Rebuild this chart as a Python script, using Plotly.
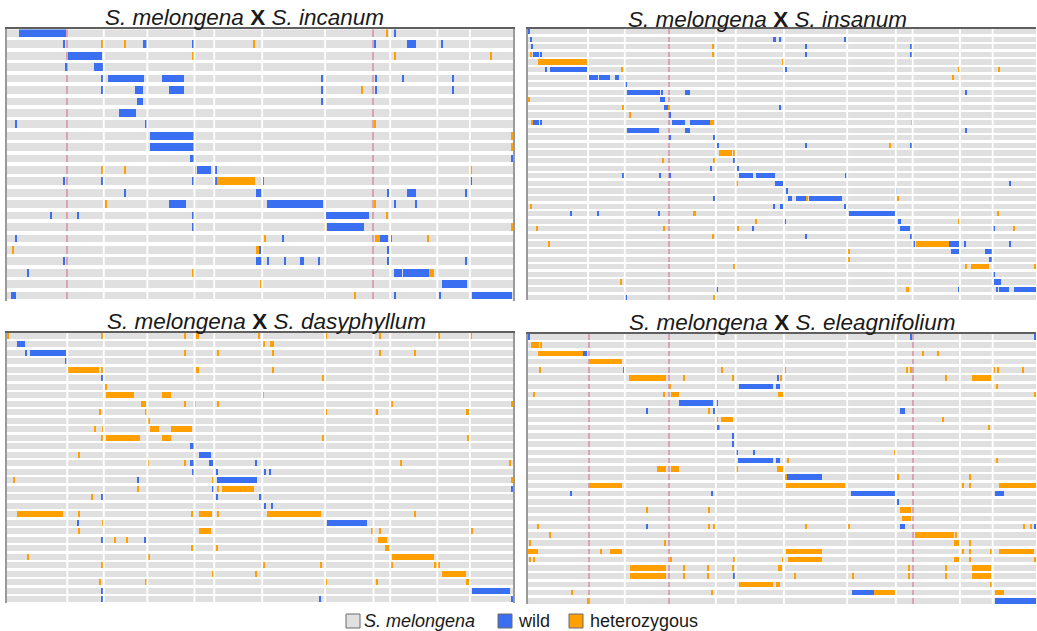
import plotly.graph_objects as go

# Chromosome lengths (Mb) of the eggplant reference, laid end to end along x
CHROM_LEN = [137, 83, 99, 107, 45, 109, 143, 110, 38, 107, 74, 98]
GENOME = sum(CHROM_LEN)

GRAY = "#e0e0e0"
BLUE = "#3b6ff2"
ORANGE = "#ffa000"
PINK = "#d9a3b3"
SNP_W = 3.0     # drawn width of single-marker calls (Mb)
BAR_W = 0.68    # row thickness

FONT = "Liberation Sans, Arial, sans-serif"

# ---------------- S. melongena x S. incanum (24 lines) ----------------
incanum_rows = 24
incanum_wild = [
    (0, 26.5, 134), (1, 310, 318), (1, 908, 930), (2, 138.5, 216), (3, 197, 219.5),
    (4, 229, 312), (4, 353, 403), (5, 290, 309), (5, 368, 403), (6, 295, 309),
    (7, 254, 294), (9, 325.5, 425.5), (10, 325.5, 425.5), (11, 415, 425.5),
    (12, 431.5, 463), (14, 566, 579), (14, 910, 930), (15, 368, 406), (15, 592, 718),
    (16, 725, 822), (17, 727, 811.5), (18, 848, 867), (19, 572, 577), (20, 566, 579),
    (20, 666, 674), (21, 880, 897), (21, 901, 960), (22, 988.5, 1046), (23, 10, 20),
    (23, 1057.5, 1147),
]
incanum_het = [
    (8, 834, 839), (13, 478, 564), (18, 836, 848), (19, 568, 572), (21, 960, 970),
]
incanum_wild_snp = [
    (0, 882), (1, 131), (1, 424), (1, 836), (1, 990), (3, 134), (4, 217), (4, 717),
    (4, 838), (4, 901), (4, 1014), (5, 217), (5, 717), (5, 838), (5, 1014), (6, 717),
    (8, 20), (8, 316), (11, 1148), (12, 475), (13, 131), (13, 217), (13, 424), (13, 475),
    (13, 583), (13, 1054), (14, 269), (14, 867), (14, 1044), (15, 883), (15, 931),
    (16, 100), (16, 161), (16, 424), (17, 424), (18, 20), (18, 628), (18, 874), (19, 867),
    (20, 131), (20, 593), (20, 632), (20, 710), (20, 867), (20, 1044), (21, 49),
    (23, 883), (23, 985.5),
]
incanum_het_snp = [
    (0, 865), (1, 217), (1, 269), (1, 562), (2, 424), (2, 882), (2, 1100), (5, 808),
    (9, 1147), (10, 1147), (12, 217), (12, 269), (12, 428.5), (12, 1054), (15, 225),
    (15, 836), (16, 865), (17, 723), (17, 1148), (18, 587), (18, 957.5), (19, 15),
    (21, 422), (22, 577), (23, 791),
]
incanum_pink = [137, 833]

# ---------------- S. melongena x S. insanum (36 lines) ----------------
insanum_rows = 36
insanum_wild = [
    (1, 555, 561), (1, 716, 720), (3, 10.5, 25.6), (5, 49.7, 132.6), (6, 136, 158),
    (6, 161, 185), (6, 197, 206.5), (8, 225, 298), (8, 356, 366), (9, 298, 309),
    (10, 307.5, 316.5), (12, 12, 25), (12, 325.5, 354), (12, 366, 411.5), (13, 225, 297),
    (13, 356, 366), (17, 463, 469), (19, 477, 508.5), (19, 514.5, 557.6), (20, 558, 576),
    (22, 588.5, 597.5), (22, 607, 628.5), (22, 634.5, 711), (23, 570, 580),
    (24, 725, 832), (25, 836.5, 844), (26, 841, 863.6), (28, 952.5, 975), (29, 957, 978),
    (29, 1034, 1052), (30, 1043, 1052), (33, 1055, 1070), (34, 1065.5, 1088),
    (34, 1099, 1150),
]
insanum_het = [
    (4, 22.6, 132.6), (12, 411.5, 420.5), (16, 431, 461), (24, 374, 381),
    (28, 876.5, 952.5), (31, 1002, 1042), (34, 854, 862),
]
insanum_wild_snp = [
    (0, 1.5), (1, 7.5), (1, 571), (2, 10.5), (2, 630), (2, 867), (3, 30), (3, 630),
    (3, 867), (5, 40.7), (5, 583), (7, 223), (8, 304), (8, 990), (10, 571), (11, 322.5),
    (12, 30), (13, 990), (14, 322.5), (14, 422), (15, 431), (15, 630), (15, 867),
    (18, 414.5), (18, 475), (19, 215.5), (19, 298), (19, 321), (19, 719), (20, 1090),
    (21, 585), (21, 832), (22, 422), (23, 557.6), (23, 718), (24, 98), (24, 159),
    (24, 296), (25, 582.5), (26, 510), (26, 1055), (27, 630), (27, 867), (28, 874),
    (28, 989), (28, 1091), (30, 977), (32, 1055), (34, 428), (34, 975), (34, 1060),
    (35, 221.5),
]
insanum_het_snp = [
    (2, 419), (3, 8), (3, 419), (4, 578), (5, 212), (5, 975), (5, 1065), (6, 961),
    (6, 977), (9, 1.5), (10, 215.5), (10, 320), (11, 230), (12, 10.5), (12, 869),
    (15, 820), (16, 467), (17, 306), (17, 422), (20, 473), (22, 631.5), (22, 836.5),
    (23, 7.5), (24, 1064), (25, 516), (25, 975), (26, 20), (26, 307.5), (26, 475),
    (26, 1100), (27, 419), (28, 47.5), (29, 726.5), (30, 726.5), (31, 466.5), (31, 992),
    (31, 1148), (33, 211), (35, 422),
]
insanum_pink = [319]

# ---------------- S. melongena x S. dasyphyllum (32 lines) ----------------
dasyphyllum_rows = 32
dasyphyllum_wild = [
    (1, 22.7, 41.6), (2, 51.5, 134.7), (13, 417, 424), (14, 437, 463), (15, 417, 424),
    (15, 460, 469), (16, 584, 589), (17, 478, 569), (20, 599, 604), (22, 728, 818.6),
    (30, 1056, 1142.5),
]
dasyphyllum_het = [
    (0, 430, 436), (1, 598, 607), (4, 138.5, 210), (4, 430, 436.5), (7, 225, 287.5),
    (7, 353, 372), (8, 304, 316), (9, 1044, 1052), (11, 324, 345), (11, 372, 420),
    (12, 225.5, 302.6), (12, 353, 372), (18, 489, 561.5), (21, 22, 127), (21, 437, 466),
    (21, 590, 713), (23, 437, 464.5), (24, 844, 862.5), (25, 859.5, 870), (26, 874, 970),
    (27, 970, 985), (28, 989.6, 1044), (29, 1044, 1051.5),
]
dasyphyllum_wild_snp = [
    (2, 43), (3, 134), (5, 216.5), (15, 566), (16, 422), (16, 476.6), (16, 598),
    (17, 297), (18, 468), (18, 1148), (19, 216.4), (19, 476.6), (19, 575), (19, 579),
    (20, 587), (22, 161), (24, 217), (24, 315), (30, 217), (31, 217), (31, 712.7),
    (31, 1148),
]
dasyphyllum_het_snp = [
    (0, 1.5), (0, 217), (0, 405.5), (0, 573.5), (0, 726), (0, 847), (0, 982), (0, 1055.5),
    (1, 585.5), (2, 405.5), (2, 480.5), (2, 604), (2, 847), (2, 927.6), (4, 216.5),
    (4, 604), (5, 719), (6, 225), (7, 583), (8, 405.5), (8, 428), (8, 480.5), (8, 875.5),
    (8, 1148), (9, 211), (9, 315.5), (9, 726), (9, 842), (10, 323), (11, 200.5), (11, 218),
    (12, 217), (12, 719), (12, 1049), (14, 164), (15, 321), (15, 406), (15, 896.5),
    (15, 1144), (17, 17), (17, 469), (17, 1148), (18, 297), (18, 479), (19, 193.7),
    (21, 164), (21, 420.6), (21, 480.5), (21, 927.6), (22, 218), (23, 164), (23, 829),
    (23, 847), (23, 1058), (24, 246.6), (24, 272), (25, 420), (25, 476.6), (26, 49),
    (26, 324), (27, 217), (27, 585), (27, 715), (27, 875.5), (28, 467.6), (28, 566),
    (29, 211), (29, 315.5), (29, 726), (29, 842),
]
dasyphyllum_pink = []

# ---------------- S. melongena x S. eleagnifolium (33 lines) ----------------
eleagnifolium_rows = 33
eleagnifolium_wild = [
    (2, 124.6, 134.4), (6, 477, 555), (6, 560, 570), (8, 342, 419), (9, 842, 852),
    (15, 475.7, 555), (15, 560, 570), (17, 585, 666), (19, 730, 829), (19, 1057, 1076),
    (23, 842, 852), (31, 731.7, 783), (32, 1055.6, 1148),
]
eleagnifolium_het = [
    (1, 7.5, 25), (2, 22.7, 124.6), (3, 137.4, 213.7), (5, 228.8, 311.9), (5, 1004, 1046),
    (7, 323, 341), (7, 566, 578), (10, 437, 463), (16, 290.7, 311.9), (16, 323, 341),
    (16, 564, 578), (18, 137.4, 213.7), (18, 583, 717), (18, 1065, 1150), (21, 842, 866),
    (22, 845.7, 866), (24, 876, 964), (25, 963, 974), (26, 0, 22.7), (26, 185, 213.7),
    (26, 583, 666), (26, 1065, 1145), (27, 589, 666), (27, 963, 977.8), (28, 230, 312),
    (28, 565, 575), (28, 1004, 1046), (29, 230, 312), (29, 1004, 1046), (30, 477, 555),
    (30, 560, 570), (31, 783, 829), (31, 1057, 1076),
]
eleagnifolium_wild_snp = [
    (0, 2), (0, 867), (0, 1148), (4, 216.7), (5, 566), (8, 428), (9, 270), (9, 420.6),
    (11, 429.6), (12, 464.4), (13, 464.4), (14, 473.4), (14, 511), (19, 98), (19, 417.6),
    (20, 836.6), (23, 270), (23, 1148), (29, 466.6),
]
eleagnifolium_het_snp = [
    (1, 30), (2, 893), (2, 927), (4, 28), (4, 439.5), (4, 581), (4, 857), (4, 867),
    (4, 1055), (4, 1063), (4, 1120), (5, 352.6), (5, 464.4), (5, 572), (5, 945.4),
    (6, 321), (6, 1061), (7, 14), (7, 308), (7, 1148), (9, 410), (10, 428), (10, 938.6),
    (11, 432.7), (11, 1042), (14, 831), (15, 587.5), (15, 1061), (16, 473.4), (17, 583),
    (17, 836.6), (17, 1000.5), (18, 984), (18, 1000.5), (21, 269.6), (21, 410),
    (23, 22.7), (23, 410), (23, 420.6), (23, 630), (23, 726.4), (23, 1123), (23, 1138),
    (24, 50.6), (24, 969), (25, 4), (25, 310.3), (25, 1000.5), (26, 166), (26, 984),
    (26, 1000.5), (26, 1047), (27, 5), (27, 14), (27, 323), (27, 466.6), (27, 577.6),
    (27, 1000.5), (27, 1148), (28, 352.6), (28, 408), (28, 464.4), (28, 861), (28, 945.4),
    (29, 352.6), (29, 408), (29, 604), (29, 736), (29, 861), (29, 945.4), (30, 1048),
    (31, 99), (31, 417.6), (32, 136),
]
eleagnifolium_pink = [137, 319, 871]

# Panel titles (wild parent) and placement in page pixels
PANELS = [
    dict(wild="S. incanum", rows=incanum_rows, wild_seg=incanum_wild, het_seg=incanum_het,
         wild_snp=incanum_wild_snp, het_snp=incanum_het_snp, pink=incanum_pink,
         px=(7, 513), first=33.3, step=11.42, right_line=True, title_xy=(244.5, 18)),
    dict(wild="S. insanum", rows=insanum_rows, wild_seg=insanum_wild, het_seg=insanum_het,
         wild_snp=insanum_wild_snp, het_snp=insanum_het_snp, pink=insanum_pink,
         px=(527.5, 1036), first=31.7, step=7.589, right_line=False, title_xy=(767, 19)),
    dict(wild="S. dasyphyllum", rows=dasyphyllum_rows, wild_seg=dasyphyllum_wild,
         het_seg=dasyphyllum_het, wild_snp=dasyphyllum_wild_snp, het_snp=dasyphyllum_het_snp,
         pink=dasyphyllum_pink, px=(7, 513), first=336.0, step=8.495, right_line=True,
         title_xy=(266.5, 321.7)),
    dict(wild="S. eleagnifolium", rows=eleagnifolium_rows, wild_seg=eleagnifolium_wild,
         het_seg=eleagnifolium_het, wild_snp=eleagnifolium_wild_snp,
         het_snp=eleagnifolium_het_snp, pink=eleagnifolium_pink, px=(527.5, 1036),
         first=336.7, step=8.25, right_line=False, title_xy=(792, 322)),
]

W, H = 1037, 631

# chromosome boundaries along the concatenated genome
boundaries = []
acc = 0
for L in CHROM_LEN[:-1]:
    acc += L
    boundaries.append(acc)


def seg_bar(segs, color, xa, ya):
    return go.Bar(
        y=[s[0] for s in segs], base=[s[1] for s in segs], x=[s[2] - s[1] for s in segs],
        orientation="h", width=BAR_W, marker=dict(color=color, line=dict(width=0)),
        xaxis=xa, yaxis=ya, showlegend=False, hoverinfo="skip",
    )


def snp_bar(snps, color, xa, ya):
    return go.Bar(
        y=[s[0] for s in snps], base=[s[1] - SNP_W / 2 for s in snps], x=[SNP_W] * len(snps),
        orientation="h", width=BAR_W, marker=dict(color=color, line=dict(width=0)),
        xaxis=xa, yaxis=ya, showlegend=False, hoverinfo="skip",
    )


fig = go.Figure()
shapes = []
annotations = []
layout_axes = {}

for i, p in enumerate(PANELS, start=1):
    sfx = "" if i == 1 else str(i)
    xa, ya = f"x{sfx}", f"y{sfx}"
    n = p["rows"]
    top = p["first"] - 0.34 * p["step"]
    bottom = top + (n - 1 + 0.74) * p["step"]
    x0, x1 = p["px"]

    rows = list(range(n))
    fig.add_trace(go.Bar(
        y=rows, base=[0] * n, x=[GENOME] * n, orientation="h", width=BAR_W,
        marker=dict(color=GRAY, line=dict(width=0)), xaxis=xa, yaxis=ya,
        showlegend=False, hoverinfo="skip",
    ))
    if p["pink"]:
        pink_marks = [(r, b) for b in p["pink"] for r in rows]
        fig.add_trace(go.Bar(
            y=[m[0] for m in pink_marks], base=[m[1] - 1.2 for m in pink_marks],
            x=[2.4] * len(pink_marks), orientation="h", width=BAR_W,
            marker=dict(color=PINK, line=dict(width=0)), xaxis=xa, yaxis=ya,
            showlegend=False, hoverinfo="skip",
        ))
    fig.add_trace(seg_bar(p["het_seg"], ORANGE, xa, ya))
    fig.add_trace(seg_bar(p["wild_seg"], BLUE, xa, ya))
    fig.add_trace(snp_bar(p["het_snp"], ORANGE, xa, ya))
    fig.add_trace(snp_bar(p["wild_snp"], BLUE, xa, ya))

    layout_axes[f"xaxis{sfx}"] = dict(
        domain=[x0 / W, x1 / W], range=[0, GENOME], anchor=ya, side="top",
        showgrid=False, zeroline=False, showticklabels=False, ticks="",
        showline=True, linecolor="#5f5f5f", linewidth=1.5, fixedrange=True,
    )
    layout_axes[f"yaxis{sfx}"] = dict(
        domain=[1 - bottom / H, 1 - top / H], range=[n - 1 + 0.4, -0.34], anchor=xa,
        showgrid=False, zeroline=False, showticklabels=False, ticks="",
        showline=True, linecolor="#9a9a9a", linewidth=1.5,
        mirror=p["right_line"], fixedrange=True,
    )

    # white gaps between chromosomes
    for b in boundaries:
        if b in p["pink"]:
            continue
        shapes.append(dict(
            type="line", xref=xa, yref=f"{ya} domain", x0=b, x1=b, y0=0, y1=1,
            line=dict(color="white", width=1.8), layer="above",
        ))

    tx, ty = p["title_xy"]
    annotations.append(dict(
        text=f"<i>S. melongena</i> <b>X</b> <i>{p['wild']}</i>",
        xref="paper", yref="paper", x=tx / W, y=1 - ty / H,
        xanchor="center", yanchor="middle", showarrow=False,
        font=dict(family=FONT, size=22.5, color="#1a1a1a"),
    ))

# Legend: genotype classes
legend_items = [
    ("<i>S. melongena</i>", GRAY, 346, 362),
    ("wild", BLUE, 498, 516),
    ("heterozygous", ORANGE, 569, 588),
]
for label, color, sq_x, tx in legend_items:
    shapes.append(dict(
        type="rect", xref="paper", yref="paper",
        x0=sq_x / W, x1=(sq_x + 14) / W, y0=1 - 628 / H, y1=1 - 614 / H,
        fillcolor=color, line=dict(color="#6a6a6a", width=1), layer="above",
    ))
    annotations.append(dict(
        text=label, xref="paper", yref="paper", x=tx / W, y=1 - 621 / H,
        xanchor="left", yanchor="middle", showarrow=False,
        font=dict(family=FONT, size=18, color="#1a1a1a"),
    ))

fig.update_layout(
    width=W, height=H, margin=dict(l=0, r=0, t=0, b=0),
    paper_bgcolor="white", plot_bgcolor="white",
    barmode="overlay", bargap=0, showlegend=False,
    shapes=shapes, annotations=annotations,
    **layout_axes,
)

fig.write_html("out.html")
